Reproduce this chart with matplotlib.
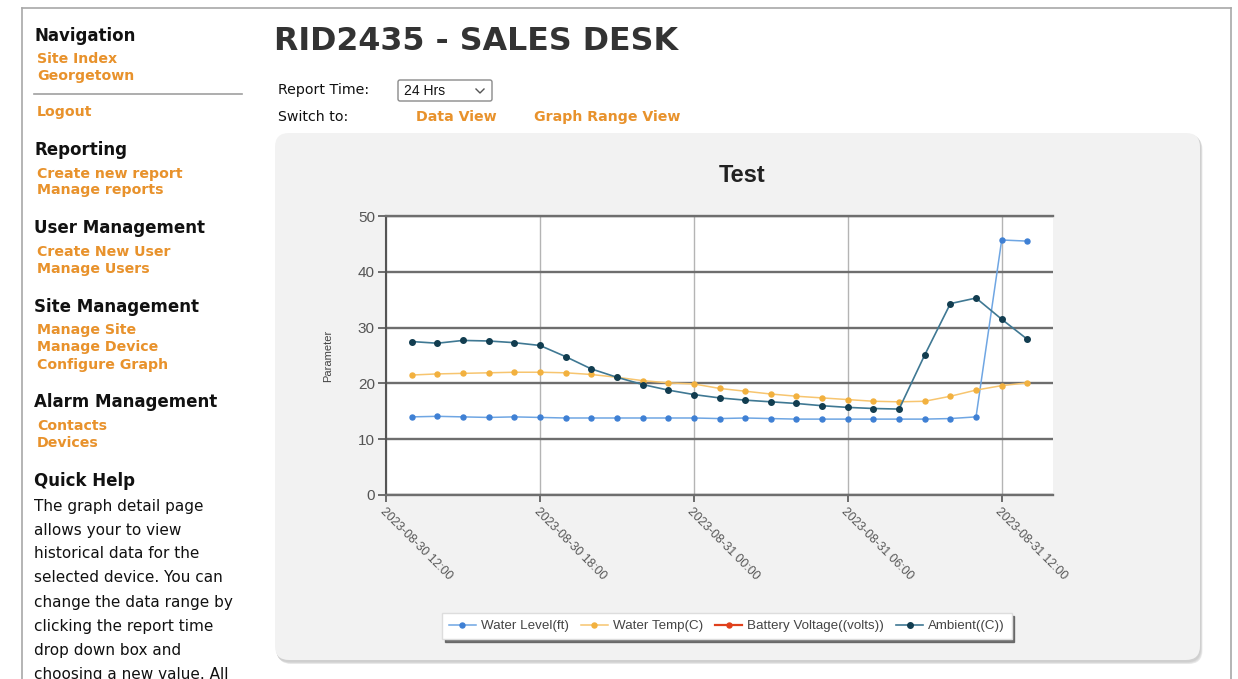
import matplotlib
matplotlib.use("Agg")
import matplotlib.pyplot as plt
import matplotlib.dates as mdates
from matplotlib.patches import FancyBboxPatch
import pandas as pd

# ---------------- data ----------------
times = ["2023-08-30 13:00", "2023-08-30 14:00", "2023-08-30 15:00", "2023-08-30 16:00",
         "2023-08-30 17:00", "2023-08-30 18:00", "2023-08-30 19:00", "2023-08-30 20:00",
         "2023-08-30 21:00", "2023-08-30 22:00", "2023-08-30 23:00", "2023-08-31 00:00",
         "2023-08-31 01:00", "2023-08-31 02:00", "2023-08-31 03:00", "2023-08-31 04:00",
         "2023-08-31 05:00", "2023-08-31 06:00", "2023-08-31 07:00", "2023-08-31 08:00",
         "2023-08-31 09:00", "2023-08-31 10:00", "2023-08-31 11:00", "2023-08-31 12:00",
         "2023-08-31 13:00"]
water_level = [14.0, 14.1, 14.0, 13.9, 14.0, 13.9, 13.8, 13.8, 13.8, 13.8, 13.8, 13.8, 13.7,
               13.8, 13.7, 13.6, 13.6, 13.6, 13.6, 13.6, 13.6, 13.7, 14.0, 45.7, 45.5]
water_temp = [21.5, 21.7, 21.8, 21.9, 22.0, 22.0, 21.9, 21.6, 21.1, 20.5, 20.1, 19.9, 19.1,
              18.6, 18.1, 17.7, 17.4, 17.1, 16.8, 16.7, 16.8, 17.7, 18.8, 19.6, 20.1]
battery_voltage = []  # no readings shown in the chart
ambient = [27.5, 27.2, 27.7, 27.6, 27.3, 26.8, 24.8, 22.6, 21.1, 19.8, 18.8, 18.0, 17.4,
           17.0, 16.7, 16.4, 16.0, 15.7, 15.5, 15.4, 25.1, 34.3, 35.3, 31.5, 27.9]
series_names = ["Water Level(ft)", "Water Temp(C)", "Battery Voltage((volts))", "Ambient((C))"]
y_ticks = [0, 10, 20, 30, 40, 50]
x_range = ["2023-08-30 12:00", "2023-08-31 14:00"]

sidebar = [
    ("Navigation", "head"), ("Site Index", "link"), ("Georgetown", "link"), ("---", "sep"),
    ("Logout", "link"), ("Reporting", "head"), ("Create new report", "link"),
    ("Manage reports", "link"), ("User Management", "head"), ("Create New User", "link"),
    ("Manage Users", "link"), ("Site Management", "head"), ("Manage Site", "link"),
    ("Manage Device", "link"), ("Configure Graph", "link"), ("Alarm Management", "head"),
    ("Contacts", "link"), ("Devices", "link"), ("Quick Help", "head"),
]
sidebar_y = [36, 59, 76, 94, 112, 150, 174, 190, 228, 252, 269, 307, 330, 347, 365, 402,
             426, 443, 481]
help_lines = ["The graph detail page", "allows your to view", "historical data for the",
              "selected device. You can", "change the data range by",
              "clicking the report time", "drop down box and", "choosing a new value. All"]

W, H = 1238, 679
fig = plt.figure(figsize=(W / 100, H / 100), dpi=100)
fig.patch.set_facecolor("white")

# ---------------- page background axes (pixel coords) ----------------
bg = fig.add_axes([0, 0, 1, 1], zorder=0)
bg.set_xlim(0, W)
bg.set_ylim(H, 0)
bg.axis("off")

ORANGE = "#e8922c"
page_font = "DejaVu Sans"
chart_font = "Liberation Sans"

# page border
bg.plot([22, 1231], [8, 8], color="#a8a8a8", lw=1.2)
bg.plot([22, 22], [8, H], color="#a8a8a8", lw=1.2)
bg.plot([1231, 1231], [8, H], color="#a8a8a8", lw=1.2)

# sidebar
for (txt, kind), y in zip(sidebar, sidebar_y):
    if kind == "head":
        bg.text(34, y, txt, fontsize=12, fontweight="bold", color="#111111",
                family=page_font, va="center", ha="left")
    elif kind == "link":
        bg.text(37, y, txt, fontsize=10.2, fontweight="bold", color=ORANGE,
                family=page_font, va="center", ha="left")
    else:
        bg.plot([34, 242], [y, y], color="#a0a0a0", lw=1.2)
for i, line in enumerate(help_lines):
    bg.text(34, 506 + 24 * i, line, fontsize=11, color="#111111", family=page_font,
            va="center", ha="left")

# header
bg.text(274, 42, "RID2435 - SALES DESK", fontsize=22.8, fontweight="bold", color="#333333",
        family=page_font, va="center", ha="left")
bg.text(278, 90, "Report Time:", fontsize=10.2, color="#111111", family=page_font,
        va="center", ha="left")
bg.text(278, 117, "Switch to:", fontsize=10.2, color="#111111", family=page_font,
        va="center", ha="left")
bg.text(416, 117, "Data View", fontsize=10.2, fontweight="bold", color=ORANGE,
        family=page_font, va="center", ha="left")
bg.text(534, 117, "Graph Range View", fontsize=10.2, fontweight="bold", color=ORANGE,
        family=page_font, va="center", ha="left")
bg.add_patch(FancyBboxPatch((398, 80), 94, 21, boxstyle="round,pad=0,rounding_size=2",
                            fc="white", ec="#8a8a8a", lw=1))
bg.text(404, 91, "24 Hrs", fontsize=10, color="#111111", family=chart_font,
        va="center", ha="left")
bg.plot([476, 480, 484], [89, 93, 89], color="#555555", lw=1)

# chart panel with soft shadow
for off, c in [(5, "#ececec"), (4, "#e2e2e2"), (3, "#d8d8d8"), (2, "#cfcfcf")]:
    bg.add_patch(FancyBboxPatch((275 + off * 0.5, 133 + off * 0.6), 925, 528,
                                boxstyle="round,pad=0,rounding_size=14", fc=c, ec="none"))
bg.add_patch(FancyBboxPatch((275, 133), 925, 527, boxstyle="round,pad=0,rounding_size=14",
                            fc="#f2f2f2", ec="none"))
bg.text(742, 176, "Test", fontsize=17, fontweight="bold", color="#222222",
        family=chart_font, va="center", ha="center")

# ---------------- chart axes ----------------
L, R, T, B = 386, 1053, 216, 495
ax = fig.add_axes([L / W, 1 - B / H, (R - L) / W, (B - T) / H], zorder=2)
ax.set_facecolor("white")

t = pd.to_datetime(times)
ax.plot(t, water_level, color="#6fa6e3", lw=1.1, marker="o", ms=3.6,
        mfc="#3f80d4", mec="#3f80d4", label=series_names[0], zorder=3)
ax.plot(t, water_temp, color="#f7c56f", lw=1.1, marker="o", ms=3.6,
        mfc="#f2b13f", mec="#f2b13f", label=series_names[1], zorder=3)
ax.plot(pd.to_datetime(battery_voltage), battery_voltage, color="#e0401c", lw=1.6,
        marker="o", ms=3.6, label=series_names[2], zorder=3)
ax.plot(t, ambient, color="#3f7893", lw=1.2, marker="o", ms=4,
        mfc="#123d50", mec="#123d50", label=series_names[3], zorder=4)

ax.set_xlim(pd.to_datetime(x_range[0]), pd.to_datetime(x_range[1]))
ax.set_ylim(0, 50)
ax.set_yticks(y_ticks)
ax.xaxis.set_major_locator(mdates.HourLocator(byhour=[0, 6, 12, 18]))
ax.xaxis.set_major_formatter(mdates.DateFormatter("%Y-%m-%d %H:%M"))

ax.grid(axis="y", color="#6e6e6e", lw=1.7, zorder=1)
ax.grid(axis="x", color="#b4b4b4", lw=1.0, zorder=1)
ax.set_axisbelow(True)
ax.spines["right"].set_visible(False)
ax.spines["top"].set_color("#6e6e6e")
ax.spines["top"].set_linewidth(1.7)
ax.spines["bottom"].set_color("#6e6e6e")
ax.spines["bottom"].set_linewidth(1.7)
ax.spines["left"].set_color("#555555")
ax.spines["left"].set_linewidth(1.5)

ax.tick_params(axis="y", length=6, width=1.2, color="#555555", labelsize=11,
               labelcolor="#555555", pad=2)
ax.tick_params(axis="x", length=5, width=1.2, color="#555555", labelsize=8.8,
               labelcolor="#555555", pad=3)
for lab in ax.get_yticklabels():
    lab.set_family(chart_font)
for lab in ax.get_xticklabels():
    lab.set_family(chart_font)
    lab.set_rotation(-45)
    lab.set_ha("left")
    lab.set_va("top")
    lab.set_rotation_mode("anchor")

ax.set_ylabel("Parameter", fontsize=8, color="#444444", family=chart_font, labelpad=18)

leg = ax.legend(loc="center", bbox_to_anchor=(727 / W, 1 - 626 / H),
                bbox_transform=fig.transFigure, ncol=4, frameon=True, fancybox=False,
                shadow={"color": "#555555", "alpha": 0.8}, edgecolor="#dddddd",
                facecolor="white", framealpha=1, prop={"family": chart_font, "size": 9.6},
                handlelength=2.0, columnspacing=0.9, handletextpad=0.4,
                borderpad=0.5, borderaxespad=0)
for txt in leg.get_texts():
    txt.set_color("#444444")

fig.savefig("out.png", dpi=100, facecolor="white")
